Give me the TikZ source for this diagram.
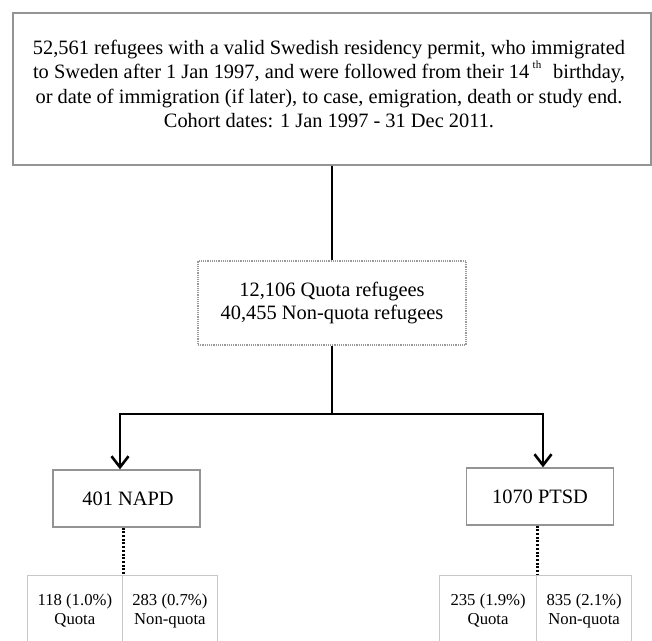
\documentclass[tikz,border=0pt]{standalone}
\usepackage{fontspec}
\setmainfont{Liberation Serif}
\usetikzlibrary{arrows.meta}
\begin{document}
\begin{tikzpicture}[x=1pt,y=-1pt,
  graybox/.style={draw=black!42, line width=1.3pt, inner sep=0pt, fill=white},
  midbox/.style={draw=black!40, line width=1.2pt, densely dotted, inner sep=0pt, fill=white},
  cellbox/.style={draw=black!22, line width=1pt, inner sep=0pt, minimum height=72pt, align=center, font=\fontsize{16.7}{19}\selectfont},
  conn/.style={line width=2.8pt, black},
  arr/.style={conn, -{Straight Barb[length=11pt,width=17pt,line width=2.6pt]}},
  dotline/.style={line width=3pt, dash pattern=on 2pt off 1.7pt}
]
\useasboundingbox (0,0) rectangle (652,640);
\fill[white] (0,0) rectangle (652,640);

% top box
\node[graybox, minimum width=638pt, minimum height=152pt] (top) at (332,89) {};
\node[align=center, font=\fontsize{20.4}{24.5}\selectfont, inner sep=0pt] (toptext) at (329,84)
 {52,561 refugees with a valid Swedish residency permit, who immigrated\\
  to Sweden after 1 Jan 1997, and were followed from their 14\,\raisebox{10pt}{\fontsize{11}{11}\selectfont th}\,\, birthday,\\
  or date of immigration (if later), to case, emigration, death or study end.\\
  Cohort dates: 1 Jan 1997 - 31 Dec 2011.};

% middle box
\node[midbox, minimum width=268pt, minimum height=84pt, align=center,
      font=\fontsize{20.4}{22.5}\selectfont] (mid) at (332,303)
 {12,106 Quota refugees\\40,455 Non-quota refugees};

% outcome boxes
\node[graybox, minimum width=147pt, minimum height=57pt, font=\fontsize{20.4}{24}\selectfont] (napd) at (126.5,498.5) {\hspace*{3pt}401 NAPD};
\node[graybox, minimum width=147.4pt, minimum height=57pt, font=\fontsize{20.4}{24}\selectfont] (ptsd) at (540,496.5) {1070 PTSD};

% bottom cells
\node[cellbox, minimum width=95.7pt] (q1) at (74.85,611) {118 (1.0\%)\\Quota};
\node[cellbox, minimum width=94.3pt] (nq1) at (169.85,611) {283 (0.7\%)\\Non-quota};
\node[cellbox, minimum width=96.8pt] (q2) at (488.1,611) {235 (1.9\%)\\Quota};
\node[cellbox, minimum width=95.2pt] (nq2) at (584.1,611) {835 (2.1\%)\\Non-quota};

% connectors
\coordinate (jn) at (332,414);
\draw[conn] (top.south) -- (mid.north);
\draw[conn] (mid.south) -- (jn);
\draw[arr] (jn) -| ([xshift=-6.5pt]napd.north);
\draw[arr] (jn) -| ([xshift=3pt]ptsd.north);
\draw[dotline] (napd.south -| q1.east) -- (q1.north east);
\draw[dotline] (ptsd.south -| q2.east) -- (q2.north east);
\end{tikzpicture}
\end{document}
